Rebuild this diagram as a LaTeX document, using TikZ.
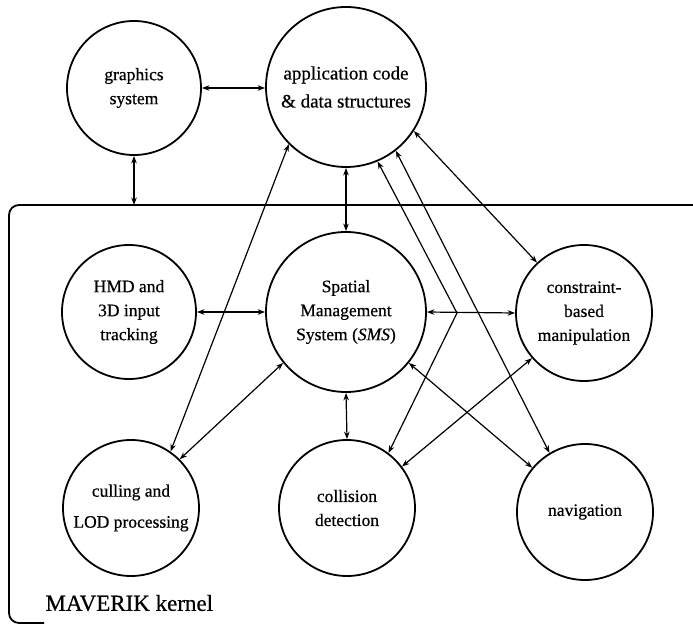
\documentclass[tikz,border=0pt]{standalone}
\usepackage{fontspec}
\setmainfont{Liberation Serif}[FakeBold=0.6]
\usetikzlibrary{arrows.meta}
\begin{document}
\begin{tikzpicture}[x=1pt,y=-1pt,
  unit/.style={draw, circle, line width=1.8pt, inner sep=0pt, align=center,
    font=\fontsize{17.5}{24}\selectfont},
  link/.style={{Stealth[length=7.5pt,width=5.5pt]}-{Stealth[length=7.5pt,width=5.5pt]},
    line width=1.2pt}]
\useasboundingbox (0,0) rectangle (693,628);

% kernel boundary
\draw[line width=1.8pt, rounded corners=10pt] (693,205) -- (9,205) -- (9,623) -- (44,623);
\node[anchor=west, font=\fontsize{23}{27}\selectfont] (kernel) at (42,603) {MAVERIK kernel};

% components
\node[unit, minimum size=134pt] (gfx) at (134,88) {graphics\\system};
\node[unit, minimum size=160pt, font=\fontsize{19}{25}\selectfont] (app) at (346,87)
  {application code\\[3pt]\& data structures};
\node[unit, minimum size=134pt] (hmd) at (129,312) {HMD and\\3D input\\tracking};
\node[unit, minimum size=160pt] (sms) at (346,312) {Spatial\\Management\\System (\textit{SMS})};
\node[unit, minimum size=136pt] (con) at (584,313) {constraint-\\based\\manipulation};
\node[unit, minimum size=136pt] (cul) at (131,508) {culling and\\[7pt]LOD processing};
\node[unit, minimum size=136pt] (col) at (347,508) {collision\\detection};
\node[unit, minimum size=136pt] (nav) at (585,512) {navigation};

% free end on the kernel boundary and bend of the collision link
\coordinate (ktop) at (gfx.south |- 0,205);
\coordinate (bend) at (457,313);

% connectors
\draw[link] (gfx.east) -- (app.west |- gfx.east);
\draw[link] (gfx.south) -- (ktop);
\draw[link] (app.south) -- (sms.north);
\draw[link] (hmd.east) -- (sms.west);
\draw[link] (sms.east) -- (con.west);
\draw[link] (sms.south) -- (col.north);
\draw[link] (app.225) -- (cul.55);
\draw[link] (sms.219) -- (cul.45);
\draw[link] (app.-67) -- (bend) -- (col.53);
\draw[link] (app.-52) -- (nav.121);
\draw[link] (app.-33) -- (con.133);
\draw[link] (sms.-39) -- (nav.140);
\draw[link] (con.221) -- (col.37);
\end{tikzpicture}
\end{document}
